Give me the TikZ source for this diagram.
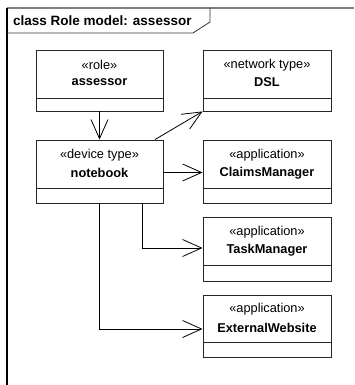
\documentclass[tikz,border=0pt]{standalone}
\usepackage{fontspec}
\setmainfont{Liberation Sans}
\usetikzlibrary{arrows.meta}
\begin{document}
\begin{tikzpicture}[x=1pt,y=-1pt,
  cls/.style={draw=black!85, line width=0.9pt, inner sep=0pt},
  st/.style={inner sep=0pt, font=\fontsize{12.8}{14}\selectfont},
  nm/.style={inner sep=0pt, font=\fontsize{12.8}{14}\selectfont\bfseries},
  dep/.style={draw=black, line width=0.8pt, -{Straight Barb[length=19pt,width=17pt,line width=0.8pt]}}]
\useasboundingbox (0,0) rectangle (354,385);
% frame
\draw[gray, line width=1.2pt] (7,8) -- (354,8);
\draw[black, line width=1.2pt] (7,8) -- (7,385);
\draw[black!80, line width=0.8pt] (7,33) -- (193,33) -- (210,22) -- (210,8);
\node[nm, anchor=base west, font=\fontsize{13.5}{15}\selectfont\bfseries] (title) at (13,25.5) {class Role model: assessor};
% boxes
\node[cls, minimum width=127pt, minimum height=61pt] (assessor) at (99.5,80.5) {};
\node[cls, minimum width=128pt, minimum height=61pt] (dsl) at (267,80.5) {};
\node[cls, minimum width=127pt, minimum height=63pt] (notebook) at (99.5,171.5) {};
\node[cls, minimum width=128pt, minimum height=63pt] (claims) at (267,171.5) {};
\node[cls, minimum width=128pt, minimum height=64pt] (task) at (267,249) {};
\node[cls, minimum width=128pt, minimum height=62pt] (ext) at (267,326) {};
% dividers
\draw[black!85, line width=0.9pt] (36,98) -- (163,98);
\draw[black!85, line width=0.9pt] (203,98) -- (331,98);
\draw[black!85, line width=0.9pt] (36,188) -- (163,188);
\draw[black!85, line width=0.9pt] (203,188) -- (331,188);
\draw[black!85, line width=0.9pt] (203,265) -- (331,265);
\draw[black!85, line width=0.9pt] (203,342) -- (331,342);
% texts
\node[st] (s1) at (99.5,65) {«role»};
\node[nm] (n1) at (99.5,82) {assessor};
\node[st] (s2) at (267,65) {«network type»};
\node[nm] (n2) at (267,82) {DSL};
\node[st] (s3) at (99.5,155) {«device type»};
\node[nm] (n3) at (99.5,173) {notebook};
\node[st] (s4) at (267,155) {«application»};
\node[nm] (n4) at (267,173) {ClaimsManager};
\node[st] (s5) at (267,232) {«application»};
\node[nm] (n5) at (267,250) {TaskManager};
\node[st] (s6) at (267,309) {«application»};
\node[nm] (n6) at (267,328) {ExternalWebsite};
% connectors
\draw[dep] (assessor) -- (notebook);
\draw[dep] ([xshift=55.5pt]notebook.north) -- (dsl.south west);
\draw[dep] ([yshift=-1pt]notebook.east) -- ([yshift=-1pt]claims.west);
\draw[dep] ([xshift=42.5pt]notebook.south) |- ([yshift=1pt]task.west);
\draw[dep] (notebook.south) |- ([yshift=-3pt]ext.west);
\end{tikzpicture}
\end{document}
